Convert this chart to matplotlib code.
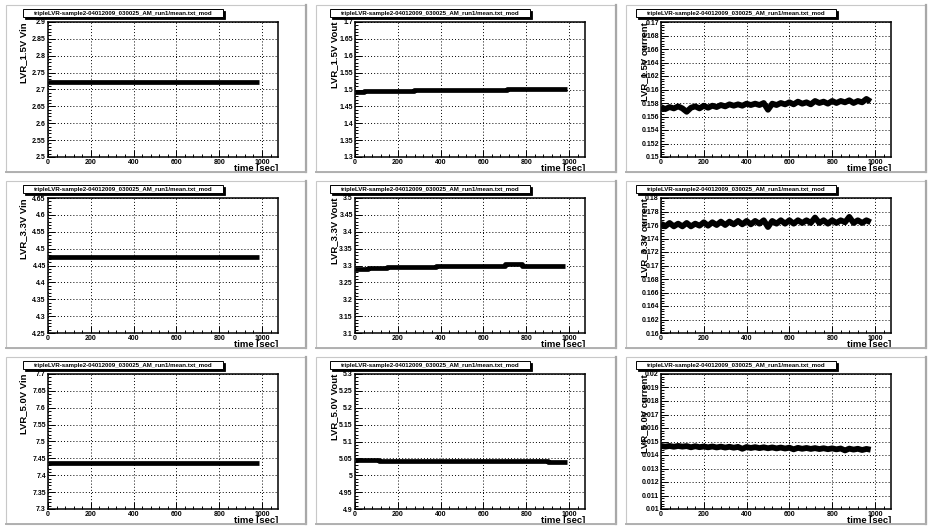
import matplotlib
matplotlib.use("Agg")
import matplotlib.pyplot as plt
from matplotlib.patches import Rectangle
from matplotlib.lines import Line2D
from matplotlib.ticker import MultipleLocator, FuncFormatter

plt.rcParams['font.family'] = ['Liberation Sans', 'DejaVu Sans']

# ---------------- data ----------------
file_title = "tripleLVR-sample2-04012009_030025_AM_run1/mean.txt_mod"

# constant / step series (time [sec], value)
vin15_t = [0, 985]
vin15_v = [2.722, 2.722]
vout15_t = [0, 40, 275, 710, 990]
vout15_v = [1.492, 1.495, 1.498, 1.501, 1.501]

vin33_t = [0, 985]
vin33_v = [4.476, 4.476]
vout33_t = [0, 60, 150, 380, 700, 780, 980]
vout33_v = [3.290, 3.293, 3.296, 3.300, 3.304, 3.300, 3.300]

vin50_t = [0, 985]
vin50_v = [7.436, 7.436]
vout50_t = [0, 110, 900, 990]
vout50_v = [5.044, 5.041, 5.038, 5.038]

# noisy current readings, sampled every 20 s
cur_t = list(range(0, 1000, 20))
cur15_v = [0.1574, 0.1571, 0.1574, 0.1572, 0.1575, 0.1572, 0.1567, 0.1573, 0.1575, 0.1572,
           0.1576, 0.1573, 0.1576, 0.1574, 0.1577, 0.1575, 0.1578, 0.1576, 0.1578, 0.1576,
           0.1579, 0.1577, 0.1579, 0.1577, 0.1580, 0.1570, 0.1579, 0.1577, 0.1580, 0.1578,
           0.1581, 0.1578, 0.1582, 0.1579, 0.1581, 0.1578, 0.1583, 0.1580, 0.1582, 0.1579,
           0.1583, 0.1580, 0.1583, 0.1581, 0.1584, 0.1580, 0.1583, 0.1581, 0.1586, 0.1582]
cur33_v = [0.1762, 0.1758, 0.1763, 0.1758, 0.1762, 0.1758, 0.1763, 0.1758, 0.1762, 0.1759,
           0.1764, 0.1759, 0.1764, 0.1760, 0.1765, 0.1760, 0.1765, 0.1761, 0.1766, 0.1761,
           0.1766, 0.1761, 0.1766, 0.1762, 0.1767, 0.1757, 0.1766, 0.1762, 0.1767, 0.1762,
           0.1767, 0.1762, 0.1767, 0.1763, 0.1767, 0.1763, 0.1771, 0.1763, 0.1767, 0.1762,
           0.1767, 0.1763, 0.1767, 0.1764, 0.1772, 0.1763, 0.1767, 0.1763, 0.1767, 0.1764]
cur50_v = [0.01467, 0.01462, 0.01467, 0.01461, 0.01467, 0.01462, 0.01466, 0.01457, 0.01465, 0.01458,
           0.01463, 0.01457, 0.01463, 0.01456, 0.01462, 0.01455, 0.01461, 0.01454, 0.01460, 0.01446,
           0.01459, 0.01452, 0.01458, 0.01451, 0.01457, 0.01450, 0.01456, 0.01449, 0.01455, 0.01448,
           0.01454, 0.01442, 0.01453, 0.01446, 0.01452, 0.01445, 0.01451, 0.01444, 0.01450, 0.01443,
           0.01449, 0.01442, 0.01448, 0.01434, 0.01447, 0.01440, 0.01446, 0.01437, 0.01445, 0.01439]

panels = [
    # (ylabel, t, v, ymin, ymax, ymajor, steps)
    ("LVR_1.5V Vin", vin15_t, vin15_v, 2.5, 2.9, 0.05, False),
    ("LVR_1.5V Vout", vout15_t, vout15_v, 1.3, 1.7, 0.05, True),
    ("LVR_1.5V current", cur_t, cur15_v, 0.15, 0.17, 0.002, False),
    ("LVR_3.3V Vin", vin33_t, vin33_v, 4.25, 4.65, 0.05, False),
    ("LVR_3.3V Vout", vout33_t, vout33_v, 3.1, 3.5, 0.05, True),
    ("LVR_3.3V current", cur_t, cur33_v, 0.16, 0.18, 0.002, False),
    ("LVR_5.0V Vin", vin50_t, vin50_v, 7.3, 7.7, 0.05, False),
    ("LVR_5.0V Vout", vout50_t, vout50_v, 4.9, 5.3, 0.05, True),
    ("LVR_5.0V current", cur_t, cur50_v, 0.01, 0.02, 0.001, False),
]

# ---------------- layout (pixels) ----------------
W, H = 932, 527
fig = plt.figure(figsize=(W / 100, H / 100), dpi=100)
fig.patch.set_facecolor("white")

col_left = [48, 355, 661]
col_w = 230
row_top = [22, 198, 374]
row_h = 135
pad_left = [6, 316, 626]
pad_w = 300
pad_top = [5, 181, 357]
pad_h = 167
ylab_x = [-0.108, -0.087, -0.072]


def fx(px):
    return px / W


def fy(py):
    return 1 - py / H


fmt = FuncFormatter(lambda v, p: "%g" % round(v, 6))

for i, (ylab, t, v, y0, y1, ymaj, steps) in enumerate(panels):
    r, c = divmod(i, 3)
    # pad border
    pl, pt = pad_left[c], pad_top[r]
    fig.add_artist(Rectangle((fx(pl), fy(pt + pad_h)), pad_w / W, pad_h / H,
                             transform=fig.transFigure, fill=False,
                             ec="#c8c8c8", lw=0.8))
    fig.add_artist(Line2D([fx(pl + pad_w), fx(pl + pad_w)], [fy(pt), fy(pt + pad_h)],
                          transform=fig.transFigure, color="#a8a8a8", lw=1.6))
    fig.add_artist(Line2D([fx(pl), fx(pl + pad_w)], [fy(pt + pad_h), fy(pt + pad_h)],
                          transform=fig.transFigure, color="#b0b0b0", lw=1.4))

    l, tp = col_left[c], row_top[r]
    ax = fig.add_axes([fx(l), fy(tp + row_h), col_w / W, row_h / H])
    ax.set_facecolor("white")
    ax.set_xlim(0, 1075)
    ax.set_ylim(y0, y1)
    ax.xaxis.set_major_locator(MultipleLocator(200))
    ax.xaxis.set_minor_locator(MultipleLocator(40))
    ax.yaxis.set_major_locator(MultipleLocator(ymaj))
    ax.yaxis.set_minor_locator(MultipleLocator(ymaj / 5))
    ax.xaxis.set_major_formatter(fmt)
    ax.yaxis.set_major_formatter(fmt)
    ax.tick_params(which="both", direction="in", top=False, right=False,
                   labelsize=5.0, pad=1.5, width=0.7)
    ax.tick_params(which="major", length=5)
    ax.tick_params(which="minor", length=2.5)
    for lab in ax.get_xticklabels() + ax.get_yticklabels():
        lab.set_fontweight("bold")
    ax.grid(True, which="major", color="black", linestyle=(0, (1, 2.2)), lw=0.7)
    for s in ax.spines.values():
        s.set_linewidth(1.1)

    if steps:
        ax.plot(t, v, color="black", lw=3.4, drawstyle="steps-post",
                solid_capstyle="butt")
    elif len(t) > 2:
        ax.plot(t, v, color="black", lw=4.2, solid_capstyle="butt",
                solid_joinstyle="round")
    else:
        ax.plot(t, v, color="black", lw=3.4, solid_capstyle="butt")

    ax.set_ylabel(ylab, loc="top", fontsize=6.8, fontweight="bold",
                  va="center")
    ax.yaxis.set_label_coords(ylab_x[c], 1.0)
    ax.set_xlabel("time [sec]", loc="right", fontsize=6.8, fontweight="bold",
                  va="top")
    ax.xaxis.set_label_coords(1.0, -0.05)

    # title box with shadow
    bx, by, bw, bh = l - 25, tp - 13, 200, 8
    fig.add_artist(Rectangle((fx(bx + 2), fy(by + bh + 2)), bw / W, bh / H,
                             transform=fig.transFigure, fc="black", ec="black",
                             lw=0.6))
    fig.add_artist(Rectangle((fx(bx), fy(by + bh)), bw / W, bh / H,
                             transform=fig.transFigure, fc="white", ec="black",
                             lw=0.7))
    fig.text(fx(bx + bw / 2), fy(by + bh / 2), file_title, ha="center",
             va="center", fontsize=4.4, fontweight="bold")

fig.savefig("out.png", dpi=100, facecolor="white")
